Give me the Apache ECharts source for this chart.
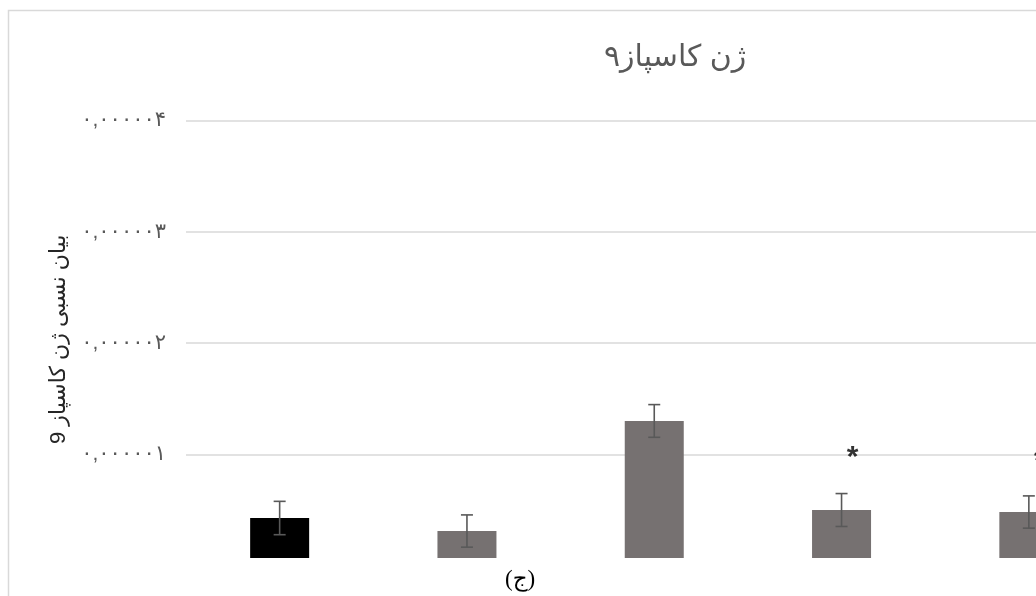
<!DOCTYPE html>
<html>
<head>
<meta charset="utf-8">
<script src="https://cdn.jsdelivr.net/npm/echarts@6/dist/echarts.min.js"></script>
<style>
html,body{margin:0;padding:0;background:#fff;overflow:hidden;width:1036px;height:596px;}
#chart{width:1200px;height:596px;}
</style>
</head>
<body>
<div id="chart"></div>
<script>
// ---- data ----
const categories = ['۱', '۲', '۳', '۴', '۵'];
const values     = [0.427e-6, 0.310e-6, 1.300e-6, 0.499e-6, 0.481e-6];
const errors     = [0.150e-6, 0.145e-6, 0.147e-6, 0.148e-6, 0.145e-6];
const starValues = [null, null, null, 1.00e-6, 0.96e-6];
const barColors  = ['#000000', '#767171', '#767171', '#767171', '#767171'];
const yTicks      = [1e-6, 2e-6, 3e-6, 4e-6];
const yTickLabels = ['۰,۰۰۰۰۰۱', '۰,۰۰۰۰۰۲', '۰,۰۰۰۰۰۳', '۰,۰۰۰۰۰۴'];
const titleText = 'ژن کاسپاز۹';
const yName = 'بیان نسبی ژن کاسپاز 9';
const panelLabel = '(ج)';

const FONT = 'Arial, "DejaVu Sans", sans-serif';
const chart = echarts.init(document.getElementById('chart'));

function tickLabel(v) {
  for (let i = 0; i < yTicks.length; i++) {
    if (Math.abs(v - yTicks[i]) < 1e-9) return yTickLabels[i];
  }
  return '';
}

const option = {
  animation: false,
  backgroundColor: '#fff',
  grid: { left: 186, top: 120.7, width: 936.5, height: 437.3, containLabel: false },
  xAxis: {
    type: 'category',
    data: categories,
    axisLine: { show: false },
    axisTick: { show: false },
    axisLabel: { show: false },
    splitLine: { show: false }
  },
  yAxis: {
    type: 'value',
    min: 0.0675e-6,
    max: 4e-6,
    splitNumber: 4,
    axisLine: { show: false },
    axisTick: { show: false },
    splitLine: { show: true, showMinLine: false, lineStyle: { color: '#d9d9d9', width: 1.5 } },
    axisLabel: {
      showMinLabel: false,
      formatter: tickLabel,
      color: '#595959',
      fontSize: 21,
      fontFamily: FONT,
      margin: 20
    },
    name: yName,
    nameLocation: 'middle',
    nameGap: 116,
    nameTextStyle: { color: '#262626', fontSize: 22, fontFamily: FONT }
  },
  series: [
    {
      type: 'bar',
      data: values.map((v, i) => ({ value: v, itemStyle: { color: barColors[i] } })),
      barWidth: 59,
      clip: true
    },
    {
      type: 'custom',
      clip: false,
      data: values.map((v, i) => [i, v, errors[i]]),
      renderItem: function (params, api) {
        const x = api.value(0), v = api.value(1), e = api.value(2);
        const top = api.coord([x, v + e]);
        const bot = api.coord([x, v - e]);
        const cw = 6;
        const style = { stroke: '#595959', lineWidth: 1.6 };
        return {
          type: 'group',
          children: [
            { type: 'line', shape: { x1: top[0], y1: top[1], x2: bot[0], y2: bot[1] }, style: style },
            { type: 'line', shape: { x1: top[0] - cw, y1: top[1], x2: top[0] + cw, y2: top[1] }, style: style },
            { type: 'line', shape: { x1: bot[0] - cw, y1: bot[1], x2: bot[0] + cw, y2: bot[1] }, style: style }
          ]
        };
      },
      z: 5
    },
    {
      type: 'scatter',
      data: starValues,
      symbolSize: 0,
      label: {
        show: true,
        position: 'inside',
        formatter: '*',
        color: '#000',
        fontSize: 30,
        fontWeight: 'bold',
        fontFamily: FONT,
        offset: [11, 3]
      },
      z: 6
    }
  ],
  graphic: [
    {
      type: 'polyline',
      shape: { points: [[8.5, 596], [8.5, 10.5], [1200, 10.5]] },
      style: { stroke: '#d9d9d9', lineWidth: 1.5, fill: null },
      silent: true
    },
    {
      type: 'text',
      left: 604,
      top: 43,
      style: { text: titleText, fill: '#595959', font: '30px ' + FONT }
    },
    {
      type: 'text',
      left: 505,
      top: 568,
      style: { text: panelLabel, fill: '#000', font: '23px "Times New Roman", "DejaVu Sans", serif' }
    }
  ]
};
chart.setOption(option);
</script>
</body>
</html>
